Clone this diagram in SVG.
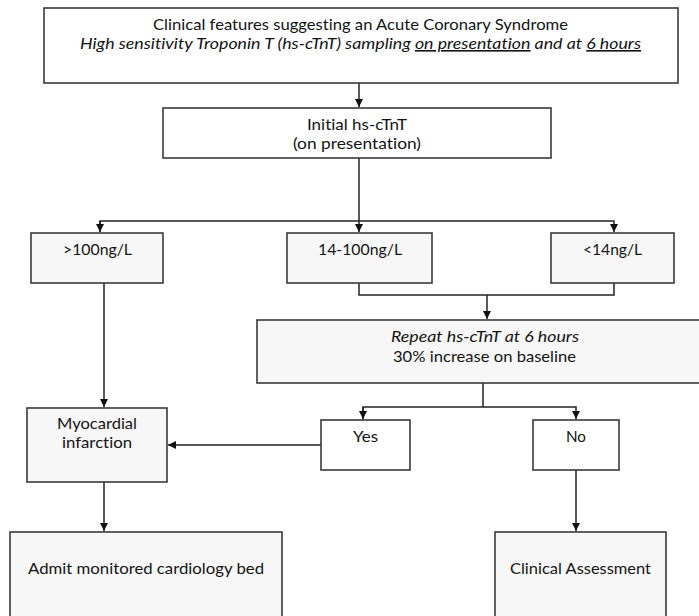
<svg xmlns="http://www.w3.org/2000/svg" width="699" height="616" viewBox="0 0 699 616">
<style>
text { font-family: Lato, "Open Sans", "Liberation Sans", sans-serif; font-size: 16px; fill: #141414; text-anchor: start; font-variant-ligatures: none; }
.it { font-style: italic; }
.box { stroke: #3a3a3a; stroke-width: 1.6; }
.w { fill: #ffffff; }
.g { fill: #f7f7f7; }
.c { fill: none; stroke: #222; stroke-width: 1.5; }
.u { text-decoration: underline; }
</style>
<defs>
<marker id="ah" markerUnits="userSpaceOnUse" markerWidth="10" markerHeight="10" viewBox="0 0 10 10" refX="9" refY="5" orient="auto">
<path d="M1,1 L9,5 L1,9 z" fill="#111"/>
</marker>
</defs>
<rect width="699" height="616" fill="#ffffff"/>

<g id="connectors">
<line class="c" x1="359" y1="83" x2="359" y2="107" marker-end="url(#ah)"/>
<line class="c" x1="359" y1="158" x2="359" y2="232" marker-end="url(#ah)"/>
<polyline class="c" points="100,232 100,221 614,221 614,232" marker-end="url(#ah)"/>
<line class="c" x1="100" y1="221" x2="100" y2="232" marker-end="url(#ah)"/>
<polyline class="c" points="359,283 359,295 614,295 614,283"/>
<line class="c" x1="487" y1="295" x2="487" y2="319" marker-end="url(#ah)"/>
<line class="c" x1="483" y1="383" x2="483" y2="407"/>
<polyline class="c" points="363,419 363,407 576,407 576,419" marker-end="url(#ah)"/>
<line class="c" x1="363" y1="407" x2="363" y2="419" marker-end="url(#ah)"/>
<line class="c" x1="321" y1="445" x2="168" y2="445" marker-end="url(#ah)"/>
<line class="c" x1="104" y1="283" x2="104" y2="407" marker-end="url(#ah)"/>
<line class="c" x1="104" y1="482" x2="104" y2="531" marker-end="url(#ah)"/>
<line class="c" x1="576" y1="470" x2="576" y2="531" marker-end="url(#ah)"/>
</g>

<g id="n-top">
<rect class="box w" x="44" y="8" width="634" height="75"/>
<text x="153" y="30" textLength="415" lengthAdjust="spacingAndGlyphs">Clinical features suggesting an Acute Coronary Syndrome</text>
<text class="it" x="80" y="49" textLength="561" lengthAdjust="spacingAndGlyphs">High sensitivity Troponin T (hs-cTnT) sampling <tspan class="u">on presentation</tspan> and at <tspan class="u">6 hours</tspan></text>
</g>

<g id="n-initial">
<rect class="box w" x="163" y="108" width="388" height="50"/>
<text x="307" y="130" textLength="100" lengthAdjust="spacingAndGlyphs">Initial hs-cTnT</text>
<text x="293" y="149" textLength="128" lengthAdjust="spacingAndGlyphs">(on presentation)</text>
</g>

<g id="n-gt100">
<rect class="box g" x="31" y="233" width="132" height="50"/>
<text x="63" y="255" textLength="69" lengthAdjust="spacingAndGlyphs">&gt;100ng/L</text>
</g>

<g id="n-mid">
<rect class="box g" x="287" y="233" width="145" height="50"/>
<text x="318" y="255" textLength="84" lengthAdjust="spacingAndGlyphs">14-100ng/L</text>
</g>

<g id="n-lt14">
<rect class="box g" x="551" y="233" width="123" height="50"/>
<text x="583" y="255" textLength="59" lengthAdjust="spacingAndGlyphs">&lt;14ng/L</text>
</g>

<g id="n-repeat">
<rect class="box g" x="257" y="320" width="450" height="63"/>
<text class="it" x="391" y="342" textLength="188" lengthAdjust="spacingAndGlyphs">Repeat hs-cTnT at 6 hours</text>
<text x="393" y="362" textLength="183" lengthAdjust="spacingAndGlyphs">30% increase on baseline</text>
</g>

<g id="n-mi">
<rect class="box g" x="27" y="408" width="140" height="74"/>
<text x="57" y="429" textLength="80" lengthAdjust="spacingAndGlyphs">Myocardial</text>
<text x="62" y="448" textLength="70" lengthAdjust="spacingAndGlyphs">infarction</text>
</g>

<g id="n-yes">
<rect class="box w" x="321" y="420" width="89" height="50"/>
<text x="353" y="442" textLength="25" lengthAdjust="spacingAndGlyphs">Yes</text>
</g>

<g id="n-no">
<rect class="box w" x="533" y="420" width="86" height="50"/>
<text x="566" y="442" textLength="20" lengthAdjust="spacingAndGlyphs">No</text>
</g>

<g id="n-admit">
<rect class="box g" x="10" y="532" width="272" height="90"/>
<text x="28" y="574" textLength="236" lengthAdjust="spacingAndGlyphs">Admit monitored cardiology bed</text>
</g>

<g id="n-assess">
<rect class="box g" x="495" y="532" width="171" height="90"/>
<text x="510" y="574" textLength="141" lengthAdjust="spacingAndGlyphs">Clinical Assessment</text>
</g>
</svg>
